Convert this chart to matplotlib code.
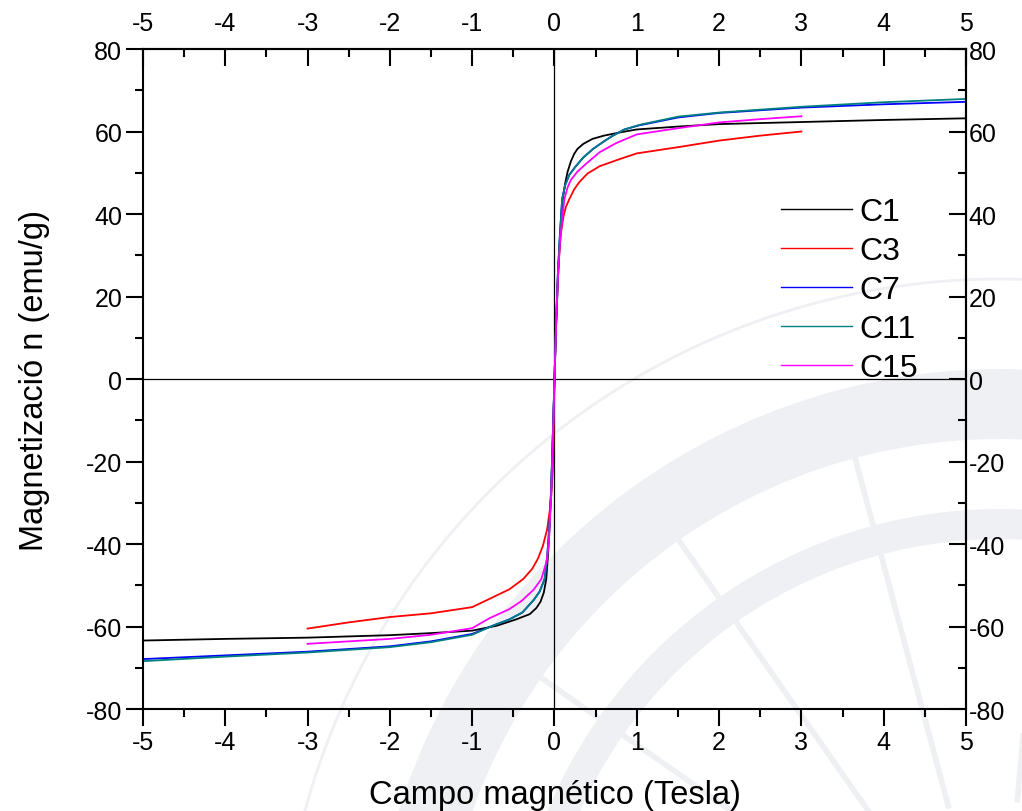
import numpy as np
import matplotlib
matplotlib.use("Agg")
import matplotlib.pyplot as plt
from matplotlib.patches import Wedge, Circle
from matplotlib.ticker import MultipleLocator

plt.rcParams['font.family'] = ['Liberation Sans', 'DejaVu Sans']
plt.rcParams['axes.unicode_minus'] = False

# Curvas de magnetizacion M(H) de cada muestra
h_c1 = [-5, -4, -3, -2, -1.5, -1, -0.7, -0.47, -0.3, -0.22, -0.17, -0.13, -0.1, -0.08, -0.06, -0.04, -0.02, 0,
        0.02, 0.05, 0.07, 0.085, 0.1, 0.13, 0.16, 0.2, 0.24, 0.28, 0.35, 0.46, 0.6, 0.8, 1, 1.5, 2, 3, 4, 5]
m_c1 = [-63.4, -63.0, -62.7, -62.1, -61.6, -61.0, -59.8, -58.3, -57.0, -55.5, -54.0, -51.8, -48.5, -43.0, -36.0, -26.0, -13.0, 0,
        13.0, 28.0, 35.0, 40.0, 43.6, 47.5, 50.3, 52.8, 54.6, 55.8, 57.0, 58.2, 59.0, 59.8, 60.5, 61.2, 61.8, 62.3, 62.8, 63.2]

h_c3 = [-3, -2.5, -2, -1.5, -1, -0.79, -0.55, -0.38, -0.27, -0.2, -0.14, -0.09, -0.06, -0.04, -0.02, -0.01, 0,
        0.02, 0.04, 0.06, 0.08, 0.11, 0.14, 0.18, 0.24, 0.3, 0.4, 0.55, 0.79, 1, 1.5, 2, 2.5, 3]
m_c3 = [-60.5, -59.0, -57.7, -56.8, -55.3, -53.3, -51.0, -48.5, -46.0, -43.5, -40.4, -36.5, -32.3, -28.5, -22.0, -12.0, 0,
        14.0, 24.0, 31.0, 35.6, 39.5, 41.8, 43.6, 46.0, 47.7, 49.8, 51.6, 53.3, 54.7, 56.2, 57.8, 59.0, 60.0]

h_c7 = [-5, -4, -3, -2, -1.5, -1, -0.75, -0.55, -0.39, -0.25, -0.18, -0.12, -0.09, -0.06, -0.04, -0.02, 0,
        0.02, 0.04, 0.06, 0.093, 0.13, 0.18, 0.26, 0.35, 0.47, 0.6, 0.71, 0.85, 1.03, 1.5, 2, 3, 4, 5]
m_c7 = [-67.9, -67.0, -66.1, -64.8, -63.6, -61.8, -59.8, -58.3, -56.6, -53.5, -51.5, -48.5, -43.5, -35.0, -27.0, -14.0, 0,
        14.0, 25.0, 33.0, 43.6, 47.0, 49.5, 51.6, 53.7, 55.8, 57.6, 59.0, 60.5, 61.5, 63.4, 64.5, 65.8, 66.6, 67.2]

h_c11 = [-5, -4, -3, -2, -1.5, -1, -0.75, -0.55, -0.39, -0.25, -0.18, -0.12, -0.09, -0.06, -0.04, -0.02, 0,
         0.02, 0.04, 0.06, 0.093, 0.13, 0.18, 0.26, 0.35, 0.47, 0.6, 0.71, 0.85, 1.03, 1.5, 2, 3, 4, 5]
m_c11 = [-68.4, -67.3, -66.3, -65.0, -63.8, -62.0, -59.8, -58.3, -56.6, -53.5, -51.5, -48.5, -43.5, -35.0, -27.0, -14.0, 0,
         14.0, 25.0, 33.0, 43.6, 47.0, 49.5, 51.6, 53.7, 55.8, 57.6, 59.0, 60.5, 61.6, 63.6, 64.6, 66.0, 67.1, 67.9]

h_c15 = [-3, -2.5, -2, -1.5, -1, -0.79, -0.55, -0.4, -0.25, -0.16, -0.1, -0.07, -0.04, -0.02, 0,
         0.02, 0.04, 0.07, 0.1, 0.12, 0.16, 0.2, 0.28, 0.385, 0.55, 0.75, 1, 1.5, 2, 2.5, 3]
m_c15 = [-64.2, -63.6, -63.0, -62.0, -60.4, -58.0, -55.8, -53.8, -51.0, -48.5, -44.5, -40.4, -28.0, -15.0, 0,
         13.0, 24.0, 34.0, 40.0, 43.6, 46.5, 48.3, 50.3, 52.2, 55.0, 57.2, 59.3, 60.8, 62.2, 63.0, 63.7]

samples = ['C1', 'C3', 'C7', 'C11', 'C15']
fields = [h_c1, h_c3, h_c7, h_c11, h_c15]
magnet = [m_c1, m_c3, m_c7, m_c11, m_c15]
colors = ['black', 'red', 'blue', '#008080', 'magenta']

fig = plt.figure(figsize=(10.22, 8.12), dpi=100)

# marca de agua (rosa de los vientos) al fondo, muy tenue
wm = '#eff0f3'
cx, cy = 10.0, -1.88
fig.add_artist(Wedge((cx, cy), 6.3, 40, 180, width=0.7, transform=fig.dpi_scale_trans,
                     facecolor=wm, edgecolor='none', zorder=0))
fig.add_artist(Wedge((cx, cy), 4.9, 40, 180, width=0.3, transform=fig.dpi_scale_trans,
                     facecolor=wm, edgecolor='none', zorder=0))
fig.add_artist(Circle((cx, cy), 7.2, transform=fig.dpi_scale_trans, fill=False,
                      edgecolor=wm, lw=2, zorder=0))
for ang in np.radians([85, 105, 125, 145, 165]):
    fig.add_artist(plt.Line2D([cx + 2.0 * np.cos(ang), cx + 5.6 * np.cos(ang)],
                              [cy + 2.0 * np.sin(ang), cy + 5.6 * np.sin(ang)],
                              transform=fig.dpi_scale_trans, color=wm, lw=4, zorder=0))

ax = fig.add_axes([0.1399, 0.1256, 0.8053, 0.8128])
ax.patch.set_alpha(0)

for h, m, c, name in zip(fields, magnet, colors, samples):
    ax.plot(h, m, color=c, lw=1.3, label=name)

ax.axhline(0, color='black', lw=0.9, zorder=1)
ax.axvline(0, color='black', lw=0.9, zorder=1)

ax.set_xlim(-5, 5)
ax.set_ylim(-80, 80)
ax.xaxis.set_major_locator(MultipleLocator(1))
ax.xaxis.set_minor_locator(MultipleLocator(0.5))
ax.yaxis.set_major_locator(MultipleLocator(20))
ax.yaxis.set_minor_locator(MultipleLocator(10))
ax.tick_params(which='both', direction='out', width=1.5, labelsize=18, pad=3)
ax.tick_params(which='major', length=12)
ax.tick_params(which='minor', length=6)
for s in ax.spines.values():
    s.set_linewidth(1.5)

# ejes superior y derecho con marcas hacia dentro
top = ax.secondary_xaxis('top')
top.xaxis.set_major_locator(MultipleLocator(1))
top.xaxis.set_minor_locator(MultipleLocator(0.5))
top.tick_params(which='both', direction='in', width=1.5, labelsize=18, pad=10)
top.tick_params(which='major', length=12)
top.tick_params(which='minor', length=6)
top.spines['top'].set_linewidth(1.5)

right = ax.secondary_yaxis('right')
right.yaxis.set_major_locator(MultipleLocator(20))
right.yaxis.set_minor_locator(MultipleLocator(10))
right.tick_params(which='both', direction='in', width=1.5, labelsize=18, pad=2)
right.tick_params(which='major', length=12)
right.tick_params(which='minor', length=6)
right.spines['right'].set_linewidth(1.5)

ax.set_xlabel('Campo magnético (Tesla)', fontsize=23.5, labelpad=18)
ax.set_ylabel('Magnetizació n (emu/g)', fontsize=23.5, labelpad=26)

leg = ax.legend(loc='upper left', bbox_to_anchor=(0.76, 0.795), frameon=False, fontsize=23,
                handlelength=2.2, handletextpad=0.25, labelspacing=0.28, borderaxespad=0)
for line in leg.get_lines():
    line.set_linewidth(1.0)

fig.savefig('out.png', dpi=100)
